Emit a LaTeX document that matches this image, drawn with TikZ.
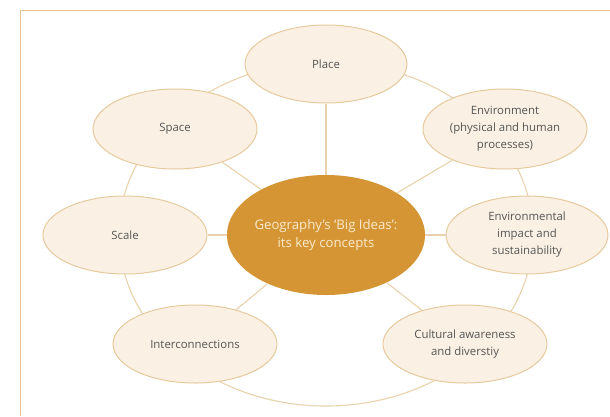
\documentclass[tikz,border=0pt]{standalone}
\usepackage{fontspec}
\setmainfont{Open Sans}
\usetikzlibrary{shapes.geometric,backgrounds}
\definecolor{ringc}{RGB}{234,210,172}
\definecolor{nodefill}{RGB}{250,241,228}
\definecolor{nodeline}{RGB}{230,202,158}
\definecolor{hubfill}{RGB}{213,149,52}
\definecolor{hubtext}{RGB}{250,234,205}
\definecolor{txt}{RGB}{85,85,85}
\definecolor{framec}{RGB}{228,196,140}
\newcommand{\ctext}[1]{\makebox[0pt]{\parbox{200pt}{\centering #1}}}
\begin{document}
\begin{tikzpicture}[x=1pt,y=-1pt,
 idea/.style={ellipse, draw=nodeline, line width=1pt, fill=nodefill, minimum width=164pt, minimum height=78pt, inner sep=0pt, text=txt, font=\fontsize{11.4}{17}\selectfont},
 hub/.style={ellipse, fill=hubfill, minimum width=198pt, minimum height=120pt, inner sep=0pt, text=hubtext, font=\fontsize{13.2}{18.5}\selectfont},
 link/.style={draw=ringc, line width=1.1pt},
 framel/.style={draw=framec, line width=1pt}]
\useasboundingbox (0,0) rectangle (610,416);
\node[hub] (hub) at (326,235) {\ctext{Geography’s ‘Big Ideas’:\\its key concepts}};
\node[idea, minimum width=162pt] (place) at (326,64) {\ctext{Place}};
\node[idea, minimum height=80pt] (space) at (175,129) {\ctext{Space}};
\node[idea, minimum height=80pt] (env) at (505,129) {\ctext{Environment\\(physical and human\\processes)}};
\node[idea] (scale) at (125,235) {\ctext{Scale}};
\node[idea, minimum width=162pt] (impact) at (527,235) {\ctext{Environmental\\impact and\\sustainability}};
\node[idea] (inter) at (195,344) {\ctext{Interconnections}};
\node[idea] (cult) at (465,344) {\ctext{Cultural awareness\\and diverstiy}};
\coordinate (ringc) at (326,234);
\begin{pgfonlayer}{background}
\fill[white] (0,0) rectangle (610,416);
\draw[framel] (20,416) -- (20,10) -- (610,10);
\draw[link] (ringc) ellipse [x radius=207pt, y radius=172pt];
\end{pgfonlayer}
\foreach \n in {place,space,env,scale,impact,inter,cult}
  \draw[link] (hub) -- (\n);
\end{tikzpicture}
\end{document}
